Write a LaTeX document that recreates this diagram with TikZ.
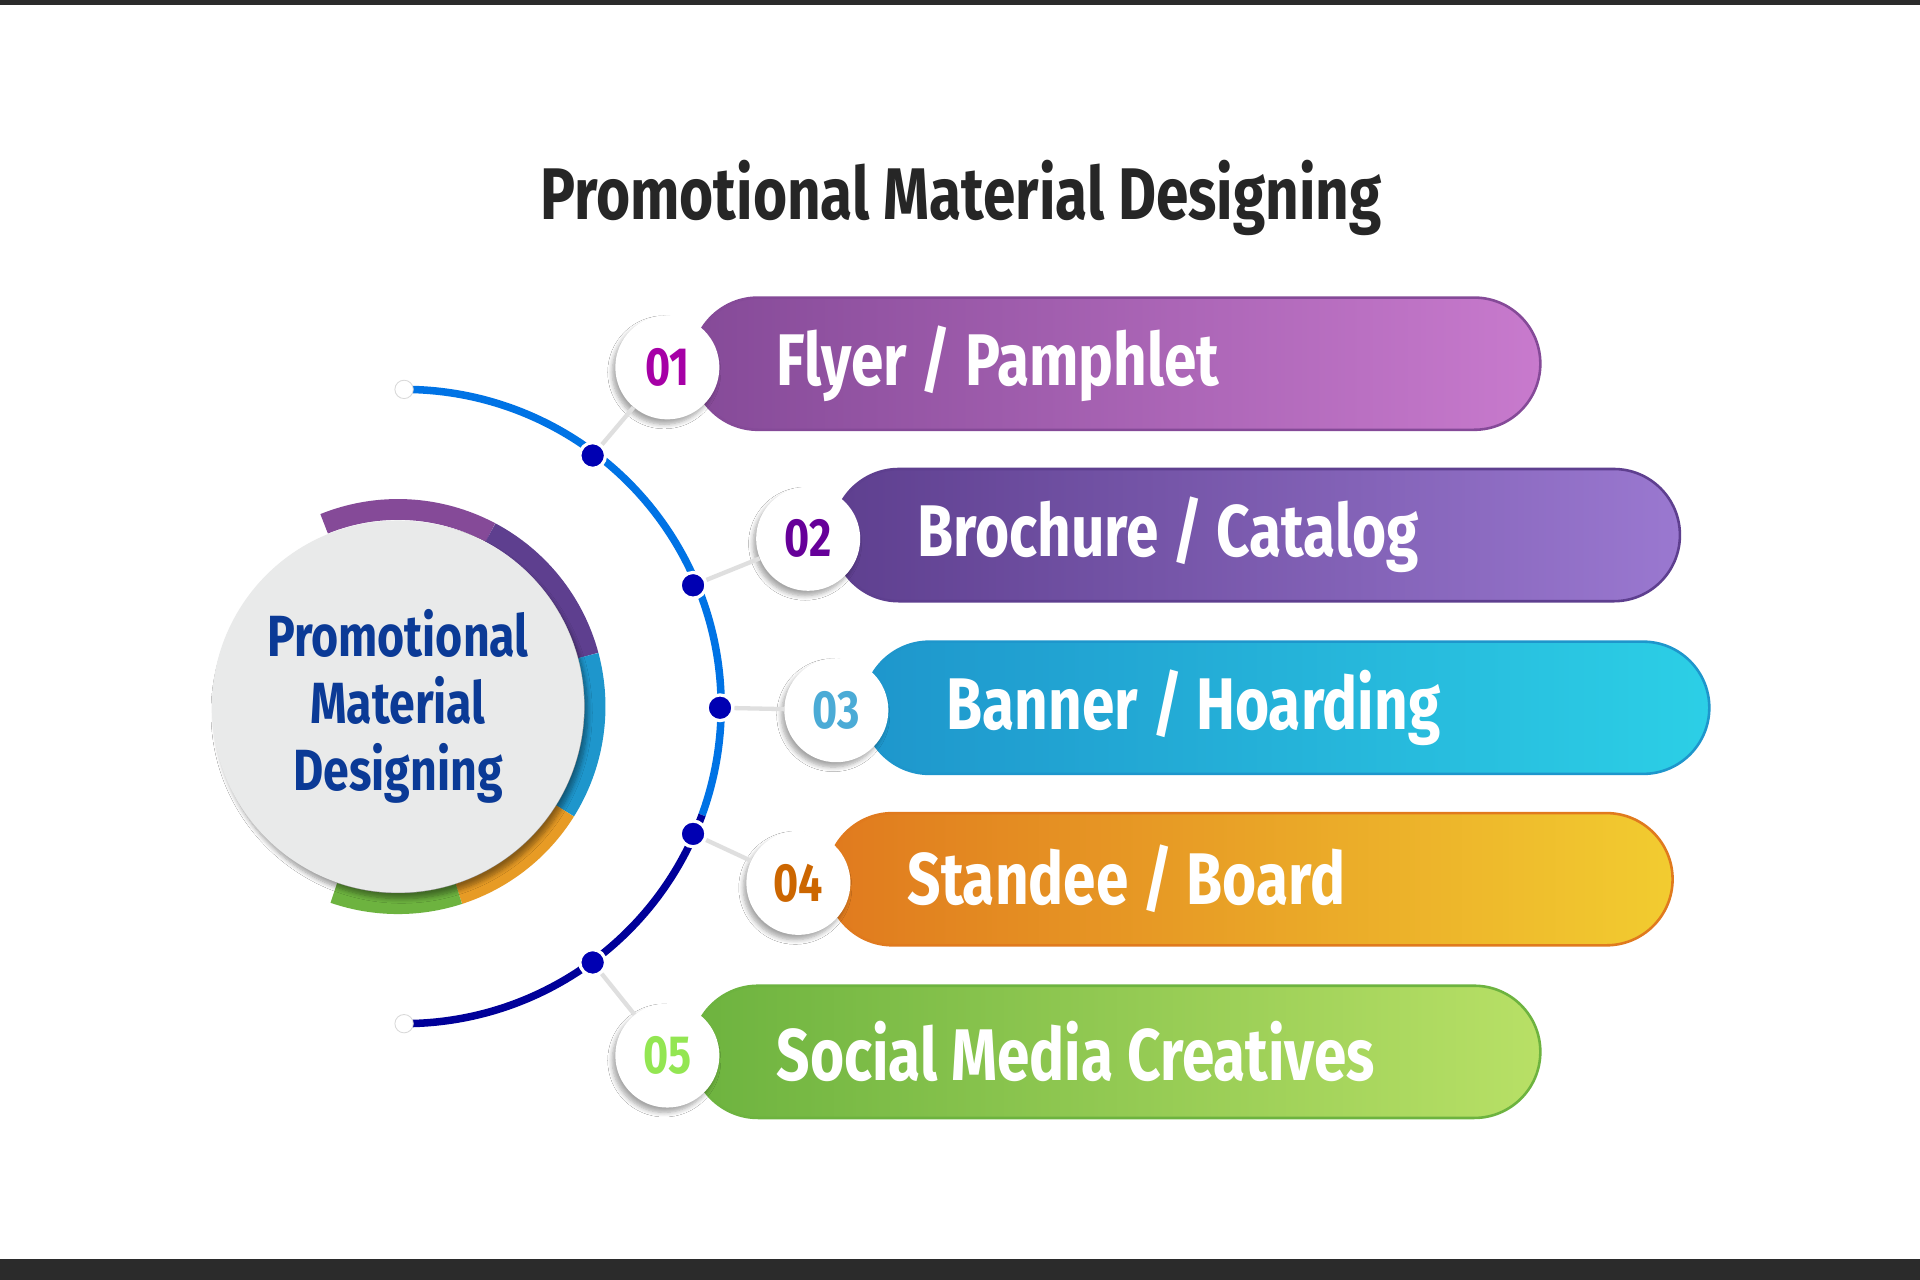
\documentclass[tikz,border=0pt]{standalone}
\usepackage{fontspec}
\setmainfont{Fira Sans}[FakeStretch=0.8]
\usetikzlibrary{shadows.blur}
\definecolor{bar}{HTML}{2B2B2B}
\definecolor{titc}{HTML}{262626}
\definecolor{cgray}{HTML}{E9EAEA}
\definecolor{navy}{HTML}{0B3A96}
\definecolor{pa}{HTML}{854A98}\definecolor{pb}{HTML}{C87ACD}
\definecolor{va}{HTML}{5E3F8F}\definecolor{vb}{HTML}{9A78D0}
\definecolor{ca}{HTML}{1E96CC}\definecolor{cb}{HTML}{2CCFE6}
\definecolor{oa}{HTML}{E07A1E}\definecolor{ob}{HTML}{F2CC30}
\definecolor{ga}{HTML}{6DB33F}\definecolor{gb}{HTML}{B8E066}
\begin{document}
\begin{tikzpicture}[x=0.02cm,y=-0.02cm,
 pill/.style={rectangle,rounded corners=1.08cm,minimum height=2.16cm,draw,line width=1.2pt,inner sep=0},
 num/.style={circle,fill=white,minimum size=1.7cm,inner sep=0,font=\bfseries\fontsize{25}{26}\selectfont,blur shadow={shadow blur steps=6,shadow xshift=-0.5mm,shadow yshift=-0.8mm,shadow opacity=35}},
 dot/.style={circle,fill=blue!70!black,draw=white,line width=1.5pt,minimum size=0.42cm,inner sep=0},
 wdot/.style={circle,fill=white,draw=gray!30,minimum size=0.3cm,inner sep=0},
 link/.style={draw=gray!25,line width=2pt},
 lab/.style={font=\bfseries\fontsize{34}{36}\selectfont,text=white,anchor=west}]
\useasboundingbox (0,0) rectangle (1568,1045);
\fill[white] (0,0) rectangle (1568,1045);
\fill[bar] (0,0) rectangle (1568,4);
\fill[bar] (0,1028) rectangle (1568,1045);
\node[font=\bfseries\fontsize{34}{36}\selectfont,text=titc] (title) at (785,162) {Promotional Material Designing};
% big arc
\coordinate (ac) at (330,577);
\draw[line width=3.5pt,blue!50!cyan!90!black] (330,318) arc[start angle=90,end angle=-20,radius=5.18cm];
\draw[line width=3.5pt,blue!60!black] (ac) ++(-20:5.18cm) arc[start angle=-20,end angle=-90,radius=5.18cm];
\node[wdot] (e1) at (330,318) {};
\node[wdot] (e2) at (330,836) {};
% pills
\node[pill,minimum width=13.86cm,left color=pa,right color=pb,draw=pa] (p1) at (911.5,297) {};
\node[pill,minimum width=13.84cm,left color=va,right color=vb,draw=va] (p2) at (1026,437) {};
\node[pill,minimum width=13.82cm,left color=ca,right color=cb,draw=ca] (p3) at (1050.5,578) {};
\node[pill,minimum width=13.82cm,left color=oa,right color=ob,draw=oa] (p4) at (1020.5,718) {};
\node[pill,minimum width=13.86cm,left color=ga,right color=gb,draw=ga] (p5) at (911.5,859) {};
\node[lab] (t1) at (628,297) {Flyer / Pamphlet};
\node[lab] (t2) at (743,437) {Brochure / Catalog};
\node[lab] (t3) at (767,578) {Banner / Hoarding};
\node[lab] (t4) at (735,718) {Standee / Board};
\node[lab] (t5) at (628,859) {Social Media Creatives};
% dots
\node[dot] (d1) at (484,372) {};
\node[dot] (d2) at (566,478) {};
\node[dot] (d3) at (588,578) {};
\node[dot] (d4) at (566,681) {};
\node[dot] (d5) at (484,786) {};
% numbers
\node[num,text=violet!70!magenta] (n1) at (545,300) {01};
\node[num,text=violet!80!blue] (n2) at (660,440) {02};
\node[num,text=ca!80!white] (n3) at (683,580) {03};
\node[num,text=orange!80!black] (n4) at (652,721) {04};
\node[num,text=gb!80!green] (n5) at (545,862) {05};
\draw[link] (d1) -- (n1);
\draw[link] (d2) -- (n2);
\draw[link] (d3) -- (n3);
\draw[link] (d4) -- (n4);
\draw[link] (d5) -- (n5);
% ring
\foreach \a/\b/\c in {112/62/pa,62/15/va,15/-32/ca,-32/-72/oa!60!ob,-72/-109/ga}{
 \draw[line width=0.34cm,\c] (325,577) ++(\a:3.22cm) arc[start angle=\a,end angle=\b,radius=3.22cm];}
\node[circle,fill=cgray,minimum size=6.08cm,inner sep=0,blur shadow={shadow blur steps=8,shadow xshift=0.6mm,shadow yshift=-1mm,shadow opacity=40}] (c) at (325,577) {};
\node[align=center,text=navy,font=\bfseries\fontsize{27}{31}\selectfont] (ct) at (325,577) {Promotional\\Material\\Designing};
\end{tikzpicture}
\end{document}
